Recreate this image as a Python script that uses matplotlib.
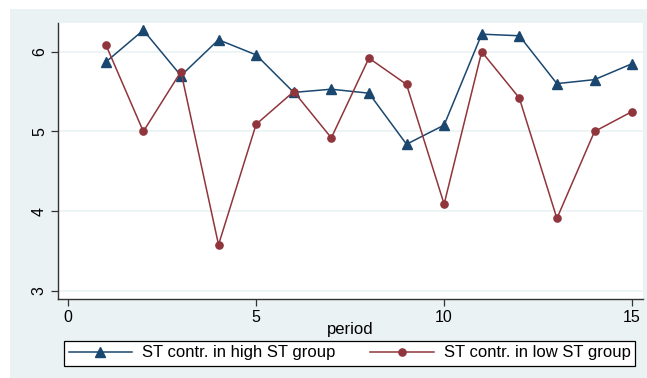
import matplotlib.pyplot as plt
from matplotlib.patches import Rectangle

plt.rcParams['font.family'] = ['Liberation Sans', 'DejaVu Sans']

# mean ST contribution per period, by group
period = [1, 2, 3, 4, 5, 6, 7, 8, 9, 10, 11, 12, 13, 14, 15]
high_st = [5.87, 6.27, 5.70, 6.15, 5.96, 5.49, 5.53, 5.48, 4.84, 5.08,
           6.22, 6.20, 5.60, 5.65, 5.85]
low_st = [6.09, 5.00, 5.75, 3.58, 5.09, 5.50, 4.92, 5.92, 5.59, 4.09,
          6.00, 5.42, 3.91, 5.00, 5.25]
labels = ['ST contr. in high ST group', 'ST contr. in low ST group']

navy = '#1a476f'
maroon = '#90353b'
bg = '#eaf2f3'

W, H = 647, 378
fig = plt.figure(figsize=(W / 100, H / 100), dpi=100, facecolor='white')
fig.patches.append(Rectangle((10 / W, 0), 1 - 10 / W, 1 - 9 / H,
                             transform=fig.transFigure, facecolor=bg,
                             edgecolor='none', zorder=-5))

ax = fig.add_axes([58 / W, 1 - 299 / H, (643 - 58) / W, (299 - 23) / H])
ax.set_zorder(2)
ax.set_facecolor('white')

h1, = ax.plot(period, high_st, color=navy, lw=1.1, marker='^', ms=7.5,
              label=labels[0], zorder=3)
h2, = ax.plot(period, low_st, color=maroon, lw=1.1, marker='o', ms=5.2,
              label=labels[1], zorder=3)

ax.set_xlim(-0.27, 15.29)
ax.set_ylim(2.9, 6.36)
ax.set_xticks([0, 5, 10, 15])
ax.set_yticks([3, 4, 5, 6])
ax.grid(axis='y', color=bg, lw=1.2, zorder=1)
ax.set_axisbelow(True)

for s in ['top', 'right']:
    ax.spines[s].set_visible(False)
for s in ['left', 'bottom']:
    ax.spines[s].set_color('#333333')
    ax.spines[s].set_linewidth(1.0)

ax.tick_params(axis='both', direction='out', length=5, width=0.9,
               color='#333333', labelsize=11.5, pad=3)
for t in ax.get_yticklabels():
    t.set_rotation(90)
    t.set_va('center')

ax.set_xlabel('period', fontsize=12, labelpad=-2)

leg = fig.legend(handles=[h1, h2], labels=labels, ncol=2, loc='center',
                 bbox_to_anchor=(349.5 / W, 1 - 353 / H), fontsize=12,
                 frameon=True, fancybox=False, edgecolor='black',
                 framealpha=1, facecolor='white',
                 handlelength=3.8, handletextpad=0.6, columnspacing=2.1,
                 borderpad=0.3)
leg.get_frame().set_linewidth(0.9)
leg.set_zorder(5)

fig.savefig('out.png', dpi=100, facecolor='white')
